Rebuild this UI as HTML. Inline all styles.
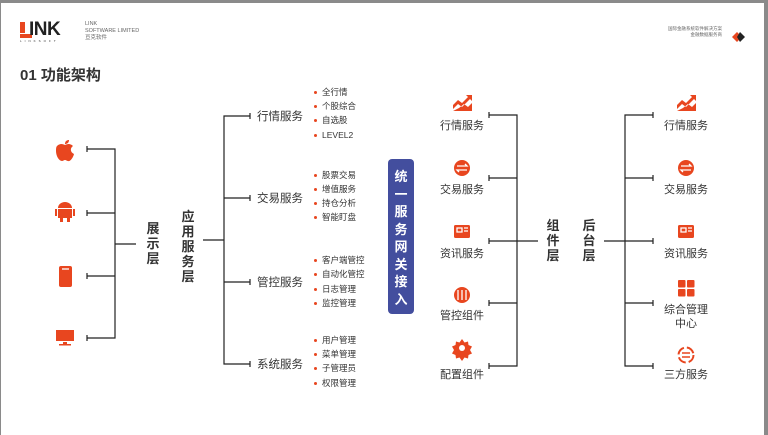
<!DOCTYPE html>
<html><head><meta charset="utf-8"><style>
*{margin:0;padding:0;box-sizing:border-box}
body{width:768px;height:435px;background:#8a8a8a;position:relative;overflow:hidden;font-family:"Liberation Sans","Noto Sans CJK SC",sans-serif;color:#333}
#pg{position:absolute;left:1px;top:3px;width:763px;height:432px;background:#fff}
.t{position:absolute;white-space:nowrap}
.lbl{font-size:11.5px;color:#333}
.b{position:absolute;white-space:nowrap;font-size:8.5px;line-height:11px;color:#333}
.b:before{content:"";display:inline-block;width:3px;height:3px;border-radius:50%;background:#e8461f;margin-right:5px;vertical-align:middle}
.v{position:absolute;font-size:13px;line-height:15px;width:16px;text-align:center;color:#333;font-weight:bold}
.c{transform:translateX(-50%);text-align:center;font-size:11px;line-height:14px}
</style></head><body>
<div id="pg"></div>
<svg width="768" height="435" style="position:absolute;left:0;top:0" stroke="#222" stroke-width="1.2" fill="none">
<path d="M87 149H115V338H87M87 213H115M87 276H115M115 244H136"/>
<path d="M87 146v6M87 210v6M87 273v6M87 335v6"/>
<path d="M203 240H224M250 116H224V364H250M224 198H250M224 282H250"/>
<path d="M250 113v6M250 195v6M250 279v6M250 361v6"/>
<path d="M489 115H517V366H489M489 178H517M489 241H517M489 303H517M517 241H538"/>
<path d="M489 112v6M489 175v6M489 238v6M489 300v6M489 363v6"/>
<path d="M604 241H625M653 115H625V366H653M625 178H653M625 241H653M625 303H653"/>
<path d="M653 112v6M653 175v6M653 238v6M653 300v6M653 363v6"/>
<g fill="#e8461f" stroke="none">
<path d="M57 146c3-3 6-2 8-1 2-1 5-2 8 1-3 2-3 6 1 8-1 4-4 8-6 7-1 0-2-1-3-1s-2 1-3 1c-3 0-6-5-6-10 0-2 0-4 1-5z M65 144c0-3 2-4 4-4 0 3-2 4-4 4z"/>
<path d="M58 208a7 6 0 0 1 14 0z M58 209h14v9h-14z M55 209h2v7h-2z M73 209h2v7h-2z M60 218h3v4h-3z M67 218h3v4h-3z"/>
<rect x="59" y="266" width="13" height="21" rx="2"/>
<rect x="56" y="330" width="18" height="11"/><rect x="63" y="342" width="4" height="2"/><rect x="59" y="344" width="12" height="1.5"/>
<path d="M453 111v-6l5-5 4 3 6-6-2-2h6v6l-2-2-8 8-4-3-5 5z M453 111h19v-8l-4 4-4-3-5 4-6 3z"/>
<circle cx="462" cy="168" r="8"/>
<rect x="454" y="225" width="16" height="13" rx="1.5"/>
<circle cx="462" cy="295" r="8"/>
<path d="M462 339l2.5 3.5 3.5-1 0.5 3.5 3.5 1.5-2 3.5 2 3.5-3.5 1.5-0.5 3.5-3.5-1-2.5 3.5-2.5-3.5-3.5 1-0.5-3.5-3.5-1.5 2-3.5-2-3.5 3.5-1.5 0.5-3.5 3.5 1z"/>
<path d="M677 111v-6l5-5 4 3 6-6-2-2h6v6l-2-2-8 8-4-3-5 5z M677 111h19v-8l-4 4-4-3-5 4-6 3z"/>
<circle cx="686" cy="168" r="8"/>
<rect x="678" y="225" width="16" height="13" rx="1.5"/>
<rect x="678" y="280" width="7.5" height="7.5" rx="1"/><rect x="687" y="280" width="7.5" height="7.5" rx="1"/><rect x="678" y="289" width="7.5" height="7.5" rx="1"/><rect x="687" y="289" width="7.5" height="7.5" rx="1"/>
<rect x="20" y="22" width="5" height="11"/><rect x="20" y="34" width="12" height="4"/>
<path d="M732 37l5-5 5 5-5 5z"/>
</g>
<g stroke="#fff" stroke-width="1.3">
<path d="M457 166h10l-2-2M467 170h-10l2 2M681 166h10l-2-2M691 170h-10l2 2"/>
<path d="M457 228h5v4h-5zM464 228h4M464 231h4M681 228h5v4h-5zM688 228h4M688 231h4"/>
<path d="M458 290v10M462 290v10M466 290v10"/>
<path d="M62 269h7"/>
</g>
<circle cx="462" cy="348" r="3" fill="#fff" stroke="none"/>
<circle cx="686" cy="355" r="7.5" stroke="#e8461f" stroke-width="2" stroke-dasharray="9 3"/>
<path d="M682 353h8M690 357h-8" stroke="#e8461f" stroke-width="1.4"/>
<path d="M740 32l5 5-5 5-3-5z" fill="#222" stroke="none"/>
</svg>
<div class="t" style="left:29px;top:19px;font-size:19px;font-weight:bold;color:#222;letter-spacing:-0.5px">INK</div>
<div class="t" style="left:20px;top:39px;font-size:3px;letter-spacing:3px;color:#333">LINKSOFT</div>
<div class="t" style="left:85px;top:21px;font-size:5.5px;line-height:7px;color:#666">LINK<br>SOFTWARE LIMITED<br>亘克软件</div>
<div class="t" style="left:20px;top:64px;font-size:15px;font-weight:bold;color:#333">01 功能架构</div>
<div class="t" style="left:668px;top:26px;font-size:4.5px;line-height:6px;color:#666;text-align:right">国际金融系统软件解决方案<br>金融数据服务商</div>

<div class="v" style="left:145px;top:221px">展示层</div>
<div class="v" style="left:180px;top:209px">应用服务层</div>
<div class="t lbl" style="left:257px;top:108px">行情服务</div>
<div class="t lbl" style="left:257px;top:190px">交易服务</div>
<div class="t lbl" style="left:257px;top:274px">管控服务</div>
<div class="t lbl" style="left:257px;top:356px">系统服务</div>

<div class="b" style="left:314px;top:87px">全行情</div>
<div class="b" style="left:314px;top:101px">个股综合</div>
<div class="b" style="left:314px;top:115px">自选股</div>
<div class="b" style="left:314px;top:130px">LEVEL2</div>
<div class="b" style="left:314px;top:170px">股票交易</div>
<div class="b" style="left:314px;top:184px">增值服务</div>
<div class="b" style="left:314px;top:198px">持仓分析</div>
<div class="b" style="left:314px;top:212px">智能盯盘</div>
<div class="b" style="left:314px;top:255px">客户端管控</div>
<div class="b" style="left:314px;top:269px">自动化管控</div>
<div class="b" style="left:314px;top:284px">日志管理</div>
<div class="b" style="left:314px;top:298px">监控管理</div>
<div class="b" style="left:314px;top:335px">用户管理</div>
<div class="b" style="left:314px;top:349px">菜单管理</div>
<div class="b" style="left:314px;top:363px">子管理员</div>
<div class="b" style="left:314px;top:378px">权限管理</div>

<div style="position:absolute;left:388px;top:159px;width:26px;height:155px;background:#434e9e;border-radius:4px;color:#fff;font-size:13px;line-height:17.5px;text-align:center;padding-top:9px;font-weight:bold">统<br>一<br>服<br>务<br>网<br>关<br>接<br>入</div>

<div class="t c" style="left:462px;top:119px">行情服务</div>
<div class="t c" style="left:462px;top:183px">交易服务</div>
<div class="t c" style="left:462px;top:247px">资讯服务</div>
<div class="t c" style="left:462px;top:309px">管控组件</div>
<div class="t c" style="left:462px;top:368px">配置组件</div>
<div class="v" style="left:545px;top:218px">组件层</div>
<div class="v" style="left:581px;top:218px">后台层</div>
<div class="t c" style="left:686px;top:119px">行情服务</div>
<div class="t c" style="left:686px;top:183px">交易服务</div>
<div class="t c" style="left:686px;top:247px">资讯服务</div>
<div class="t c" style="left:686px;top:303px">综合管理<br>中心</div>
<div class="t c" style="left:686px;top:368px">三方服务</div>
</body></html>
